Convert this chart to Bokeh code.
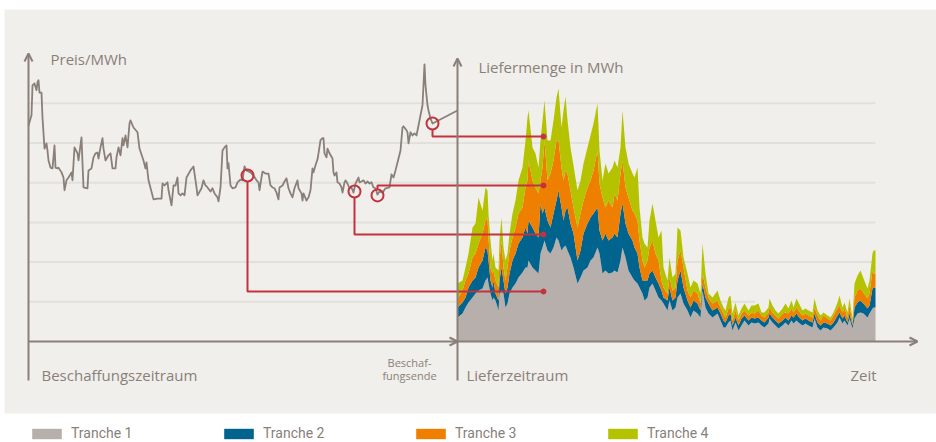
import numpy as np
from bokeh.plotting import figure
from bokeh.models import (ColumnDataSource, Range1d, Legend, LegendItem, Arrow,
                          OpenHead)
from bokeh.core.properties import value
from bokeh.embed import file_html
from bokeh.resources import INLINE

# ---------------- data ----------------
# Procurement period: price per MWh (index = day)
price_day = [0, 3, 4, 6, 8, 9, 10, 11, 13, 14,
             16, 18, 19, 20, 22, 24, 26, 27, 29, 30,
             33, 35, 36, 38, 40, 43, 44, 46, 49, 50,
             53, 54, 55, 59, 60, 63, 65, 67, 69, 70,
             72, 74, 75, 77, 80, 82, 84, 87, 88, 90,
             92, 94, 95, 97, 99, 101, 102, 105, 109, 111,
             115, 117, 118, 120, 125, 129, 133, 134, 136, 139,
             140, 143, 145, 147, 149, 150, 152, 154, 156, 158,
             162, 165, 168, 169, 173, 175, 177, 179, 182, 184,
             186, 189, 190, 192, 194, 196, 198, 199, 200, 202,
             204, 207, 209, 212, 214, 216, 218, 222, 225, 228,
             230, 231, 233, 234, 237, 240, 242, 244, 246, 248,
             250, 251, 254, 256, 258, 260, 262, 264, 266, 269,
             270, 273, 274, 275, 278, 280, 282, 284, 285, 287,
             289, 290, 292, 294, 295, 296, 298, 299, 301, 304,
             305, 306, 308, 309, 311, 313, 314, 316, 317, 319,
             321, 323, 325, 327, 330, 331, 333, 335, 337, 339,
             341, 343, 345, 347, 349, 351, 354, 357, 361, 363,
             365, 367, 370, 372, 374, 375, 378, 379, 380, 382,
             384, 386, 388, 390, 392, 394, 396, 397, 399, 400,
             402, 404, 429]
price = [54.4, 57.0, 64.5, 65.0, 63.3, 65.3, 65.8, 62.7, 62.7, 56.4,
         48.6, 49.9, 48.1, 45.6, 43.8, 43.6, 49.4, 43.8, 43.6, 43.8,
         42.6, 41.3, 38.1, 40.6, 41.3, 42.6, 40.6, 48.9, 47.4, 45.6,
         51.4, 44.9, 38.8, 38.6, 43.1, 43.6, 46.4, 47.4, 47.6, 46.1,
         48.9, 51.2, 48.6, 45.6, 46.9, 47.4, 43.6, 43.6, 46.4, 48.9,
         46.9, 51.2, 49.4, 51.9, 48.9, 54.9, 55.7, 53.9, 52.7, 48.6,
         45.6, 43.6, 45.1, 40.6, 35.8, 36.0, 36.0, 39.8, 39.3, 40.1,
         38.1, 34.3, 39.3, 39.3, 41.3, 37.3, 36.8, 37.3, 36.8, 41.3,
         43.1, 44.1, 38.8, 36.8, 38.6, 40.6, 39.3, 38.8, 37.8, 38.6,
         37.3, 36.3, 35.3, 38.8, 48.1, 48.9, 49.4, 43.6, 44.9, 39.3,
         38.6, 38.8, 40.1, 40.8, 40.6, 44.1, 43.1, 42.6, 41.8, 40.6,
         40.1, 38.1, 41.3, 42.8, 42.3, 42.3, 39.3, 38.8, 38.6, 37.5,
         35.8, 38.8, 39.3, 40.3, 41.1, 38.6, 37.3, 36.3, 38.6, 40.6,
         38.6, 37.3, 35.5, 37.3, 35.5, 36.3, 38.1, 43.6, 42.6, 44.4,
         45.9, 47.4, 50.7, 51.2, 51.2, 47.4, 46.4, 48.6, 47.4, 46.1,
         42.6, 41.8, 42.6, 40.1, 39.8, 38.8, 37.5, 40.1, 40.6, 39.8,
         38.6, 38.8, 37.5, 39.8, 41.3, 40.1, 40.3, 40.6, 39.8, 40.3,
         39.8, 40.1, 38.8, 38.6, 37.0, 37.8, 37.5, 38.6, 38.8, 42.1,
         41.3, 43.1, 46.1, 48.1, 53.9, 54.2, 53.2, 52.7, 49.9, 52.7,
         51.9, 52.4, 51.9, 54.4, 57.0, 59.5, 69.8, 64.5, 59.5, 58.2,
         56.2, 54.9, 58.2]

# Delivery period: delivered MWh per tranche (index = day)
delivery_day = [429, 434, 437, 440, 444, 447, 450, 454, 457, 459,
                460, 462, 464, 465, 467, 470, 471, 473, 475, 477,
                479, 481, 484, 487, 490, 494, 497, 499, 500, 504,
                507, 510, 512, 514, 516, 519, 522, 525, 528, 530,
                533, 535, 537, 539, 542, 545, 549, 552, 555, 559,
                562, 565, 569, 571, 574, 577, 580, 584, 586, 589,
                592, 594, 597, 600, 604, 606, 609, 611, 614, 616,
                619, 621, 624, 627, 630, 633, 635, 639, 641, 644,
                647, 649, 652, 655, 659, 662, 665, 669, 672, 674,
                677, 680, 684, 689, 692, 695, 697, 700, 702, 704,
                707, 710, 713, 716, 720, 723, 726, 730, 733, 736,
                740, 741, 744, 747, 750, 754, 757, 760, 763, 765,
                768, 770, 774, 777, 780, 784, 786, 789, 792, 795,
                799, 802, 805, 809, 811, 814, 816, 819, 821, 824,
                826, 829, 832, 835, 839, 841, 844, 845, 847]
tranche1 = [24, 28, 34, 39, 44, 48, 51, 53, 61, 64,
            58, 48, 41, 44, 41, 31, 48, 51, 48, 34,
            38, 48, 54, 58, 64, 69, 74, 74, 81, 74,
            71, 68, 88, 94, 101, 91, 88, 94, 104, 101,
            91, 94, 96, 91, 84, 74, 58, 64, 71, 74,
            81, 84, 94, 88, 68, 71, 68, 69, 71, 69,
            81, 94, 84, 71, 64, 61, 58, 54, 48, 41,
            44, 54, 58, 51, 44, 41, 38, 31, 41, 31,
            34, 44, 48, 38, 31, 24, 31, 28, 24, 51,
            34, 28, 24, 28, 21, 14, 14, 19, 21, 11,
            19, 11, 16, 21, 16, 19, 18, 19, 16, 14,
            18, 23, 19, 16, 13, 16, 19, 16, 21, 18,
            21, 19, 16, 18, 16, 14, 23, 14, 11, 14,
            13, 11, 14, 19, 24, 18, 21, 16, 23, 13,
            23, 28, 29, 28, 24, 28, 33, 34, 34]
tranche2 = [10, 11, 10, 15, 17, 16, 23, 28, 33, 27,
            23, 13, 13, 17, 7, 10, 13, 23, 13, 14,
            16, 20, 27, 30, 34, 35, 40, 34, 40, 40,
            37, 36, 50, 34, 33, 30, 26, 34, 37, 50,
            43, 27, 35, 43, 34, 34, 23, 27, 37, 44,
            43, 44, 40, 23, 33, 37, 33, 35, 37, 35,
            47, 44, 34, 37, 37, 33, 30, 20, 13, 20,
            17, 14, 13, 13, 14, 10, 6, 10, 13, 10,
            10, 17, 23, 16, 10, 10, 10, 10, 7, 7,
            10, 10, 7, 6, 7, 7, 5, 7, 7, 5,
            5, 5, 7, 5, 5, 5, 5, 5, 5, 5,
            6, 5, 5, 5, 5, 5, 5, 5, 5, 6,
            7, 6, 5, 5, 5, 5, 5, 5, 5, 5,
            5, 5, 5, 7, 5, 5, 5, 3, 5, 3,
            11, 11, 12, 10, 9, 8, 20, 20, 20]
tranche3 = [9, 12, 17, 14, 23, 24, 24, 27, 27, 33,
            23, 13, 14, 10, 13, 13, 20, 27, 13, 13,
            20, 23, 23, 26, 30, 30, 40, 53, 60, 47,
            46, 44, 23, 46, 67, 40, 54, 53, 60, 50,
            40, 40, 40, 34, 33, 26, 33, 37, 33, 36,
            37, 43, 57, 47, 43, 26, 40, 30, 40, 37,
            40, 43, 36, 36, 30, 34, 33, 27, 20, 13,
            20, 26, 30, 24, 23, 10, 10, 7, 10, 10,
            10, 20, 20, 20, 10, 10, 10, 10, 7, 10,
            10, 6, 7, 7, 6, 7, 5, 7, 6, 5,
            7, 5, 5, 5, 5, 5, 5, 7, 5, 5,
            5, 6, 5, 5, 5, 7, 5, 7, 7, 5,
            6, 6, 5, 5, 5, 5, 6, 7, 5, 7,
            5, 5, 7, 7, 7, 6, 7, 5, 8, 3,
            10, 12, 12, 11, 10, 12, 18, 14, 14]
tranche4 = [15, 10, 13, 20, 30, 30, 46, 23, 33, 27,
            24, 27, 13, 17, 13, 17, 20, 23, 20, 20,
            14, 17, 24, 27, 33, 40, 47, 63, 50, 33,
            34, 26, 40, 47, 40, 40, 33, 40, 43, 52,
            40, 70, 74, 53, 43, 42, 37, 33, 37, 40,
            45, 47, 47, 33, 17, 44, 27, 40, 33, 33,
            26, 50, 40, 34, 37, 36, 53, 33, 23, 24,
            13, 27, 37, 33, 23, 50, 20, 13, 20, 13,
            14, 33, 20, 10, 17, 10, 10, 10, 10, 30,
            14, 4, 6, 10, 7, 6, 7, 11, 12, 7,
            8, 5, 5, 7, 5, 7, 8, 7, 3, 5,
            5, 9, 7, 5, 5, 5, 9, 5, 8, 5,
            9, 8, 5, 5, 5, 5, 9, 5, 5, 3,
            3, 3, 3, 6, 10, 5, 6, 5, 7, 4,
            14, 15, 18, 14, 10, 13, 17, 23, 23]
tranche_labels = ["Tranche 1", "Tranche 2", "Tranche 3", "Tranche 4"]

# purchases: day and price of each buy, delivery level it maps to (MWh)
buy_day = [219, 326, 349, 404]
buy_price = [41.8, 37.8, 36.8, 54.9]
buy_level = [50, 107, 156, 205]
buy_target_day = 515

grid_levels = [10, 20, 30, 40, 50, 60]
grid_end_day = [727, 847, 847, 847, 847, 847]

# ---------------- styles ----------------
PANEL = "#f0efeb"
GRID = "#e2e0dc"
AXIS = "#8a7f79"
TEXT = "#8a7f79"
RED = "#c1343e"
COLORS = ["#b7afac", "#00648f", "#ef7f00", "#b5c200"]

W, H = 936, 442
X0, Y0 = 28, 341                         # origin of the chart in page pixels
PX = 3.97                                # px per price unit
y_price = Range1d((Y0 - H) / PX, Y0 / PX)
y_mwh = Range1d(Y0 - H, Y0)


def py(screen_y):
    """page pixel row -> price units (for annotation placement)"""
    return (Y0 - screen_y) / PX


p = figure(width=W, height=H, x_range=Range1d(-X0, W - X0), y_range=y_price,
           output_backend="svg", toolbar_location=None,
           x_axis_location=None, y_axis_location=None, min_border=0,
           outline_line_color=None, background_fill_color="white",
           border_fill_color="white")
p.extra_y_ranges = {"mwh": y_mwh}
p.grid.visible = False

# background panel
p.quad(left=-24, right=W - X0, top=py(9), bottom=py(413),
       fill_color=PANEL, line_color=None)

# gridlines
p.segment(x0=[0] * len(grid_levels), x1=grid_end_day, y0=grid_levels,
          y1=grid_levels, line_color=GRID, line_width=2)

# stacked delivery tranches
src = ColumnDataSource(dict(x=delivery_day, t1=tranche1, t2=tranche2,
                            t3=tranche3, t4=tranche4))
stack = p.varea_stack(stackers=["t1", "t2", "t3", "t4"], x="x", color=COLORS,
                      source=src, y_range_name="mwh")

# price line
p.line(price_day, price, line_color=AXIS, line_width=1.8, line_join="round")

# purchase connectors
scale = (y_price.end - y_price.start) / (y_mwh.end - y_mwh.start)
r = 6 / PX
xs, ys = [], []
for d, pr, lv in zip(buy_day, buy_price, buy_level):
    lp = lv * scale
    edge = pr - r if lp < pr else pr + r
    xs.append([d, d, buy_target_day])
    ys.append([edge, lp, lp])
p.multi_line(xs, ys, line_color=RED, line_width=2)
p.scatter(buy_day, buy_price, marker="circle", size=12, fill_alpha=0,
          line_color=RED, line_width=2)
p.scatter([buy_target_day] * len(buy_level), [lv * scale for lv in buy_level],
          marker="circle", size=5, fill_color=RED, line_color=RED)

# axes with arrows
for (x0, y0, x1, y1) in [(0, py(380), 0, py(53)),
                         (429, py(380), 429, py(58)),
                         (0, 0, 429, 0),
                         (429, 0, 889, 0)]:
    p.add_layout(Arrow(x_start=x0, y_start=y0, x_end=x1, y_end=y1,
                       line_color=AXIS, line_width=2,
                       end=OpenHead(size=8, line_color=AXIS, line_width=2)))

# texts
labels = ColumnDataSource(dict(
    x=[22, 450, 13, 438, 822],
    y=[py(58), py(66), py(374), py(374), py(374)],
    t=["Preis/MWh", "Liefermenge in MWh", "Beschaffungszeitraum",
       "Lieferzeitraum", "Zeit"]))
p.text(x="x", y="y", text="t", source=labels, text_color=TEXT,
       text_font=value("Open Sans"), text_font_size=value("15px"),
       text_baseline="middle", text_align="left")
p.text(x=[381, 381], y=[py(362), py(375)],
       text=["Beschaf-", "fungsende"], text_color=TEXT,
       text_font=value("Open Sans"), text_font_size=value("11px"),
       text_baseline="middle", text_align="center")

legend = Legend(items=[LegendItem(label=l, renderers=[rr])
                       for l, rr in zip(tranche_labels, stack)],
                orientation="horizontal", location=(28, 1),
                glyph_width=37, glyph_height=13, label_width=149,
                label_height=13, spacing=0, padding=0, margin=0,
                label_standoff=6, border_line_color=None,
                background_fill_alpha=0,
                label_text_font="Roboto",
                label_text_font_size="14px", label_text_color=TEXT,
                label_text_baseline="middle")
p.add_layout(legend)

open("out.html", "w").write(file_html(p, INLINE))
